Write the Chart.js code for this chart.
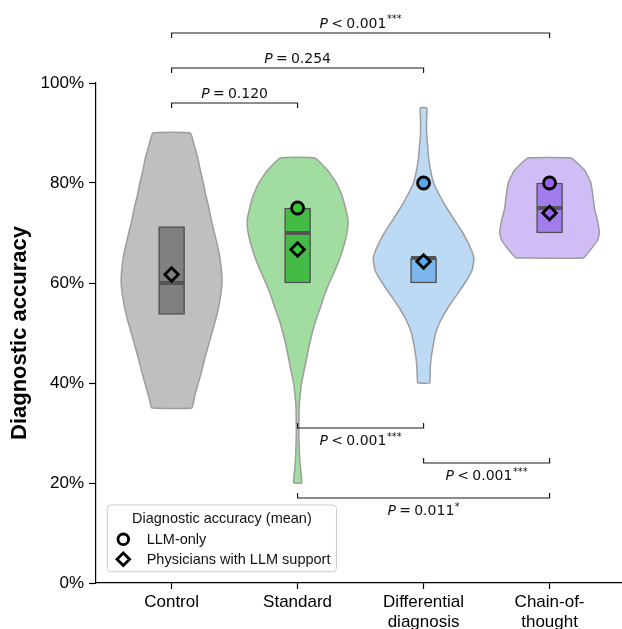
<!DOCTYPE html>
<html>
<head>
<meta charset="utf-8">
<script src="https://cdn.jsdelivr.net/npm/chart.js@4.4.1/dist/chart.umd.min.js"></script>
<style>
  html, body { margin: 0; padding: 0; background: #ffffff; }
  #wrap { width: 622px; height: 629px; position: relative; }
</style>
</head>
<body>
<div id="wrap"><canvas id="chart" width="622" height="629"></canvas></div>
<script>
// ---- data ----
const categories = ['Control', 'Standard', 'Differential diagnosis', 'Chain-of-thought'];
const tickLabels = [['Control'], ['Standard'], ['Differential', 'diagnosis'], ['Chain-of-', 'thought']];
const yTicks = [0, 20, 40, 60, 80, 100];

// violin outlines: accuracy level (%) and relative half-width (1 = widest)
const controlLevels = [35, 37.5, 40, 42.5, 45, 47.5, 50, 52.5, 55, 57.5, 60, 62.5, 65, 67.5, 70, 72.5, 75, 77.5, 80, 82.5, 85, 87.5, 90];
const controlWidths = [0.40, 0.46, 0.53, 0.60, 0.66, 0.73, 0.80, 0.87, 0.93, 0.975, 1.00, 0.99, 0.96, 0.91, 0.85, 0.79, 0.74, 0.68, 0.63, 0.57, 0.52, 0.45, 0.37];

const standardLevels = [20, 25, 30, 35, 37.5, 40, 42.5, 45, 47.5, 50, 52.5, 55, 57.5, 60, 62.5, 65, 67.5, 70, 72.5, 75, 77.5, 80, 82.5, 85];
const standardWidths = [0.08, 0.04, 0.025, 0.03, 0.05, 0.08, 0.13, 0.18, 0.23, 0.29, 0.36, 0.45, 0.53, 0.63, 0.74, 0.84, 0.92, 0.98, 1.00, 0.95, 0.88, 0.77, 0.60, 0.34];

const differentialLevels = [40, 42.5, 45, 47.5, 50, 52.5, 55, 57.5, 60, 62.5, 65, 67.5, 70, 72.5, 75, 77.5, 80, 82.5, 85, 87.5, 90, 92.5, 95];
const differentialWidths = [0.12, 0.13, 0.15, 0.19, 0.24, 0.34, 0.48, 0.65, 0.82, 0.96, 1.00, 0.91, 0.78, 0.62, 0.46, 0.32, 0.20, 0.14, 0.10, 0.08, 0.06, 0.06, 0.065];

const chainLevels = [65, 66, 67, 68.5, 70, 72.5, 75, 77.5, 80, 82.5, 84, 85];
const chainWidths = [0.67, 0.76, 0.84, 0.95, 0.99, 0.95, 0.89, 0.86, 0.82, 0.70, 0.55, 0.43];

// box: interquartile range and median (%)
const boxLow = [53.7, 60, 60, 70];
const boxHigh = [71.3, 75, 65, 80];
const medians = [60, 70, 65, 75];

// mean diagnostic accuracy (%)
const llmOnlyMean = [null, 75, 80, 80];
const physicianMean = [61.7, 66.7, 64.3, 74];

// pairwise comparisons
const bracketFrom = [0, 0, 0, 1, 2, 1];
const bracketTo = [3, 2, 1, 2, 3, 3];
const bracketLevel = [110, 103, 96, 31, 24, 17];
const bracketRelation = ['<', '=', '=', '<', '<', '='];
const bracketValue = ['0.001', '0.254', '0.120', '0.001', '0.001', '0.011'];
const bracketStars = ['***', '', '', '***', '***', '*'];

// ---- styling ----
const boxColors = ['#808080', '#44bb44', '#7cb5ec', '#a37cec'];
const violinColors = ['rgba(128,128,128,0.5)', 'rgba(68,187,68,0.5)', 'rgba(124,181,236,0.5)', 'rgba(163,124,236,0.5)'];
const markerColors = ['#808080', '#36c736', '#58a8ef', '#9a64f2'];
const VIOLIN_HALF = 0.4;
const BOX_HALF = 0.1;
const SANS = "'Liberation Sans', Arial, Helvetica, sans-serif";
const DEJAVU = "'DejaVu Sans', sans-serif";

function violinOutline(pos, levels, widths) {
  const pts = [];
  for (let k = 0; k < levels.length; k++) pts.push({ x: pos - VIOLIN_HALF * widths[k], y: levels[k] });
  for (let k = levels.length - 1; k >= 0; k--) pts.push({ x: pos + VIOLIN_HALF * widths[k], y: levels[k] });
  pts.push({ x: pts[0].x, y: pts[0].y });
  return pts;
}

const violinSets = [
  [controlLevels, controlWidths],
  [standardLevels, standardWidths],
  [differentialLevels, differentialWidths],
  [chainLevels, chainWidths]
];

const violinDatasets = violinSets.map(([lv, w], i) => ({
  type: 'line',
  label: categories[i],
  data: violinOutline(i, lv, w),
  borderColor: '#9d9d9d',
  borderWidth: 1.5,
  borderJoinStyle: 'round',
  backgroundColor: violinColors[i],
  fill: 'shape',
  pointRadius: 0,
  tension: 0.12,
  order: 5
}));

const medianData = [];
medians.forEach((m, i) => {
  medianData.push({ x: i - BOX_HALF, y: m }, { x: i + BOX_HALF, y: m }, { x: i, y: null });
});

const datasets = [
  ...violinDatasets,
  {
    type: 'bar',
    label: 'IQR',
    data: boxLow.map((lo, i) => ({ x: i, y: [lo, boxHigh[i]] })),
    backgroundColor: boxColors,
    borderColor: '#505050',
    borderWidth: 1.5,
    borderSkipped: false,
    barThickness: 26,
    order: 4
  },
  {
    type: 'line',
    label: 'Median',
    data: medianData,
    borderColor: '#555555',
    borderWidth: 4,
    borderCapStyle: 'butt',
    pointRadius: 0,
    spanGaps: false,
    fill: false,
    order: 3
  },
  {
    type: 'scatter',
    label: 'Physicians with LLM support',
    data: physicianMean.map((v, i) => ({ x: i, y: v })),
    pointStyle: 'rectRot',
    pointRadius: 6.8,
    pointBorderWidth: 2.8,
    pointBorderColor: '#000000',
    pointBackgroundColor: markerColors,
    order: 1
  },
  {
    type: 'scatter',
    label: 'LLM-only',
    data: llmOnlyMean.map((v, i) => ({ x: i, y: v })),
    pointStyle: 'circle',
    pointRadius: 6,
    pointBorderWidth: 2.8,
    pointBorderColor: '#000000',
    pointBackgroundColor: markerColors,
    order: 0
  }
];

// significance brackets with P-value labels
function drawPLabel(ctx, cx, baseline, rel, val, stars) {
  const fs = 14;
  const gap = 3.3;
  ctx.font = `italic ${fs}px ${DEJAVU}`;
  const wP = ctx.measureText('P').width;
  ctx.font = `${fs}px ${DEJAVU}`;
  const wRel = ctx.measureText(rel).width;
  const wVal = ctx.measureText(val).width;
  ctx.font = `${fs * 0.7}px ${DEJAVU}`;
  const wStars = stars ? ctx.measureText(stars).width + 0.5 : 0;
  const total = wP + gap + wRel + gap + wVal + wStars;
  let xx = cx - total / 2;
  ctx.textAlign = 'left';
  ctx.textBaseline = 'alphabetic';
  ctx.fillStyle = '#111111';
  ctx.font = `italic ${fs}px ${DEJAVU}`;
  ctx.fillText('P', xx, baseline);
  xx += wP + gap;
  ctx.font = `${fs}px ${DEJAVU}`;
  ctx.fillText(rel, xx, baseline);
  xx += wRel + gap;
  ctx.fillText(val, xx, baseline);
  xx += wVal + 0.5;
  if (stars) {
    ctx.font = `${fs * 0.7}px ${DEJAVU}`;
    ctx.fillText(stars, xx, baseline - 5.5);
  }
}

const bracketPlugin = {
  id: 'brackets',
  afterDraw(chart) {
    const { ctx, scales: { x, y } } = chart;
    ctx.save();
    ctx.strokeStyle = '#1a1a1a';
    ctx.lineWidth = 1.2;
    for (let k = 0; k < bracketFrom.length; k++) {
      const x0 = x.getPixelForValue(bracketFrom[k]);
      const x1 = x.getPixelForValue(bracketTo[k]);
      const yp = y.getPixelForValue(bracketLevel[k]);
      const above = bracketLevel[k] > 50;
      const dir = above ? 1 : -1;
      ctx.beginPath();
      ctx.moveTo(x0, yp + dir * 5);
      ctx.lineTo(x0, yp);
      ctx.lineTo(x1, yp);
      ctx.lineTo(x1, yp + dir * 5);
      ctx.stroke();
      const base = above ? yp - 5.5 : yp + 17;
      drawPLabel(ctx, (x0 + x1) / 2, base, bracketRelation[k], bracketValue[k], bracketStars[k]);
    }
    ctx.restore();
  }
};

// legend box in the lower-left corner of the plot area
const legendPlugin = {
  id: 'cornerLegend',
  afterDraw(chart) {
    const { ctx, chartArea } = chart;
    const fs = 14.5;
    ctx.save();
    ctx.font = `${fs}px ${SANS}`;
    const entries = [
      { text: 'LLM-only', style: 'circle' },
      { text: 'Physicians with LLM support', style: 'rectRot' }
    ];
    const textW = Math.max(...entries.map(e => ctx.measureText(e.text).width));
    const w = 39.4 + textW + 6;
    const h = 66.7;
    const left = chartArea.left + 11.3;
    const top = chartArea.bottom - 11.3 - h;
    ctx.beginPath();
    ctx.roundRect(left, top, w, h, 3.5);
    ctx.fillStyle = 'rgba(255,255,255,0.8)';
    ctx.fill();
    ctx.strokeStyle = '#cccccc';
    ctx.lineWidth = 1;
    ctx.stroke();
    ctx.fillStyle = '#111111';
    ctx.textBaseline = 'middle';
    ctx.textAlign = 'center';
    ctx.fillText('Diagnostic accuracy (mean)', left + w / 2, top + 13.5);
    ctx.textAlign = 'left';
    entries.forEach((e, i) => {
      const cy = top + 34.3 + i * 20;
      const mx = left + 16;
      ctx.lineWidth = 2.8;
      ctx.strokeStyle = '#000000';
      ctx.fillStyle = '#ffffff';
      ctx.beginPath();
      if (e.style === 'circle') {
        ctx.arc(mx, cy, 5.3, 0, Math.PI * 2);
      } else {
        const r = 6.3;
        ctx.moveTo(mx - r, cy);
        ctx.lineTo(mx, cy - r);
        ctx.lineTo(mx + r, cy);
        ctx.lineTo(mx, cy + r);
        ctx.closePath();
      }
      ctx.fill();
      ctx.stroke();
      ctx.fillStyle = '#111111';
      ctx.fillText(e.text, left + 39.4, cy + 0.5);
    });
    ctx.restore();
  }
};

Chart.defaults.font.family = SANS;
Chart.defaults.color = '#000000';

new Chart(document.getElementById('chart'), {
  type: 'scatter',
  data: { datasets },
  options: {
    responsive: false,
    animation: false,
    events: [],
    layout: { autoPadding: false, padding: { top: 83, left: 0, right: 0, bottom: 0 } },
    plugins: {
      legend: { display: false },
      tooltip: { enabled: false }
    },
    scales: {
      x: {
        type: 'linear',
        min: -0.6,
        max: 3.575,
        offset: false,
        afterBuildTicks: s => { s.ticks = categories.map((c, i) => ({ value: i })); },
        afterFit: s => {
          s.height = 46;
          s.paddingLeft = 0;
          s.paddingRight = 0;
        },
        ticks: {
          callback: v => tickLabels[v],
          font: { size: 17, lineHeight: 1.18 },
          color: '#000000',
          padding: 3,
          maxRotation: 0,
          autoSkip: false
        },
        grid: {
          display: true,
          drawOnChartArea: false,
          drawTicks: true,
          tickLength: 6,
          tickWidth: 1.2,
          color: '#000000',
          offset: false
        },
        border: { display: true, color: '#000000', width: 1.2 }
      },
      y: {
        type: 'linear',
        min: 0,
        max: 100,
        afterBuildTicks: s => { s.ticks = yTicks.map(v => ({ value: v })); },
        afterFit: s => { s.width = 96; },
        ticks: {
          callback: v => v + '%',
          font: { size: 17 },
          color: '#000000',
          padding: 5
        },
        grid: {
          display: true,
          drawOnChartArea: false,
          drawTicks: true,
          tickLength: 7,
          tickWidth: 1.2,
          color: '#000000'
        },
        border: { display: true, color: '#000000', width: 1.2 },
        title: {
          display: true,
          text: 'Diagnostic accuracy',
          color: '#000000',
          font: { size: 22, weight: 'bold', lineHeight: 1.2 },
          padding: { top: 6.5, bottom: 0 }
        }
      }
    }
  },
  plugins: [bracketPlugin, legendPlugin]
});
</script>
</body>
</html>
